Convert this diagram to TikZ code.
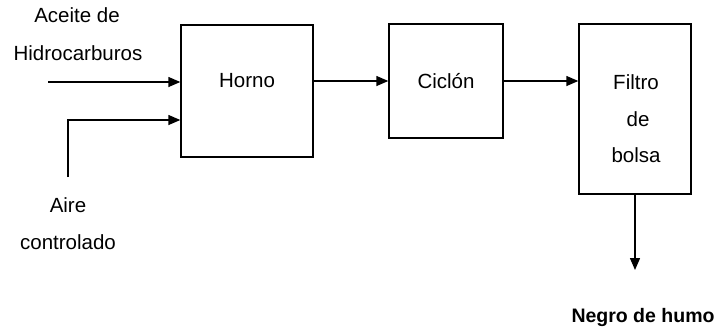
\documentclass[tikz,border=0pt]{standalone}
\usepackage{fontspec}
\setmainfont{Liberation Sans}
\usetikzlibrary{arrows.meta,calc}
\begin{document}
\begin{tikzpicture}[x=1pt,y=-1pt,
  box/.style={draw,line width=1.4pt,minimum width=#1,inner sep=0pt},
  lbl/.style={font=\fontsize{20.5}{24}\selectfont,inner sep=0pt,anchor=center},
  arr/.style={line width=1.4pt,-{Triangle[length=12pt,width=10pt]}},
  ln/.style={line width=1.4pt}]
\useasboundingbox (0,0) rectangle (719,330);
% boxes
\node[box=132pt,minimum height=132pt] (horno) at (247,91) {};
\node[box=114pt,minimum height=114pt] (ciclon) at (446,81) {};
\node[box=112pt,minimum height=170pt] (filtro) at (635,109) {};
% box labels
\node[lbl] (thorno) at (247,81) {Horno};
\node[lbl] (tciclon) at (446,81) {Ciclón};
\node[lbl] (tfil1) at (636,82) {Filtro};
\node[lbl] (tfil2) at (638,119) {de};
\node[lbl] (tfil3) at (636,155) {bolsa};
% outside labels
\node[lbl] (ta1) at (77,15) {Aceite de};
\node[lbl] (ta2) at (78,53) {Hidrocarburos};
\node[lbl] (tb1) at (68,205) {Aire};
\node[lbl] (tb2) at (68,242) {controlado};
\node[lbl,font=\fontsize{19.5}{24}\selectfont\bfseries] (tout) at (643,317) {Negro de humo};
% connectors
\coordinate (in1) at (48,82);
\coordinate (in2) at (68,177);
\coordinate (in2b) at (68,120);
\coordinate (out) at (635,270);
\draw[arr] (in1) -- (horno.west |- in1);
\draw[arr] (in2) -- (in2b) -- (horno.west |- in2b);
\draw[arr] (horno.east |- thorno) -- (ciclon.west |- thorno);
\draw[arr] (ciclon.east |- thorno) -- (filtro.west |- thorno);
\draw[arr] (filtro.south) -- (out);
\end{tikzpicture}
\end{document}
